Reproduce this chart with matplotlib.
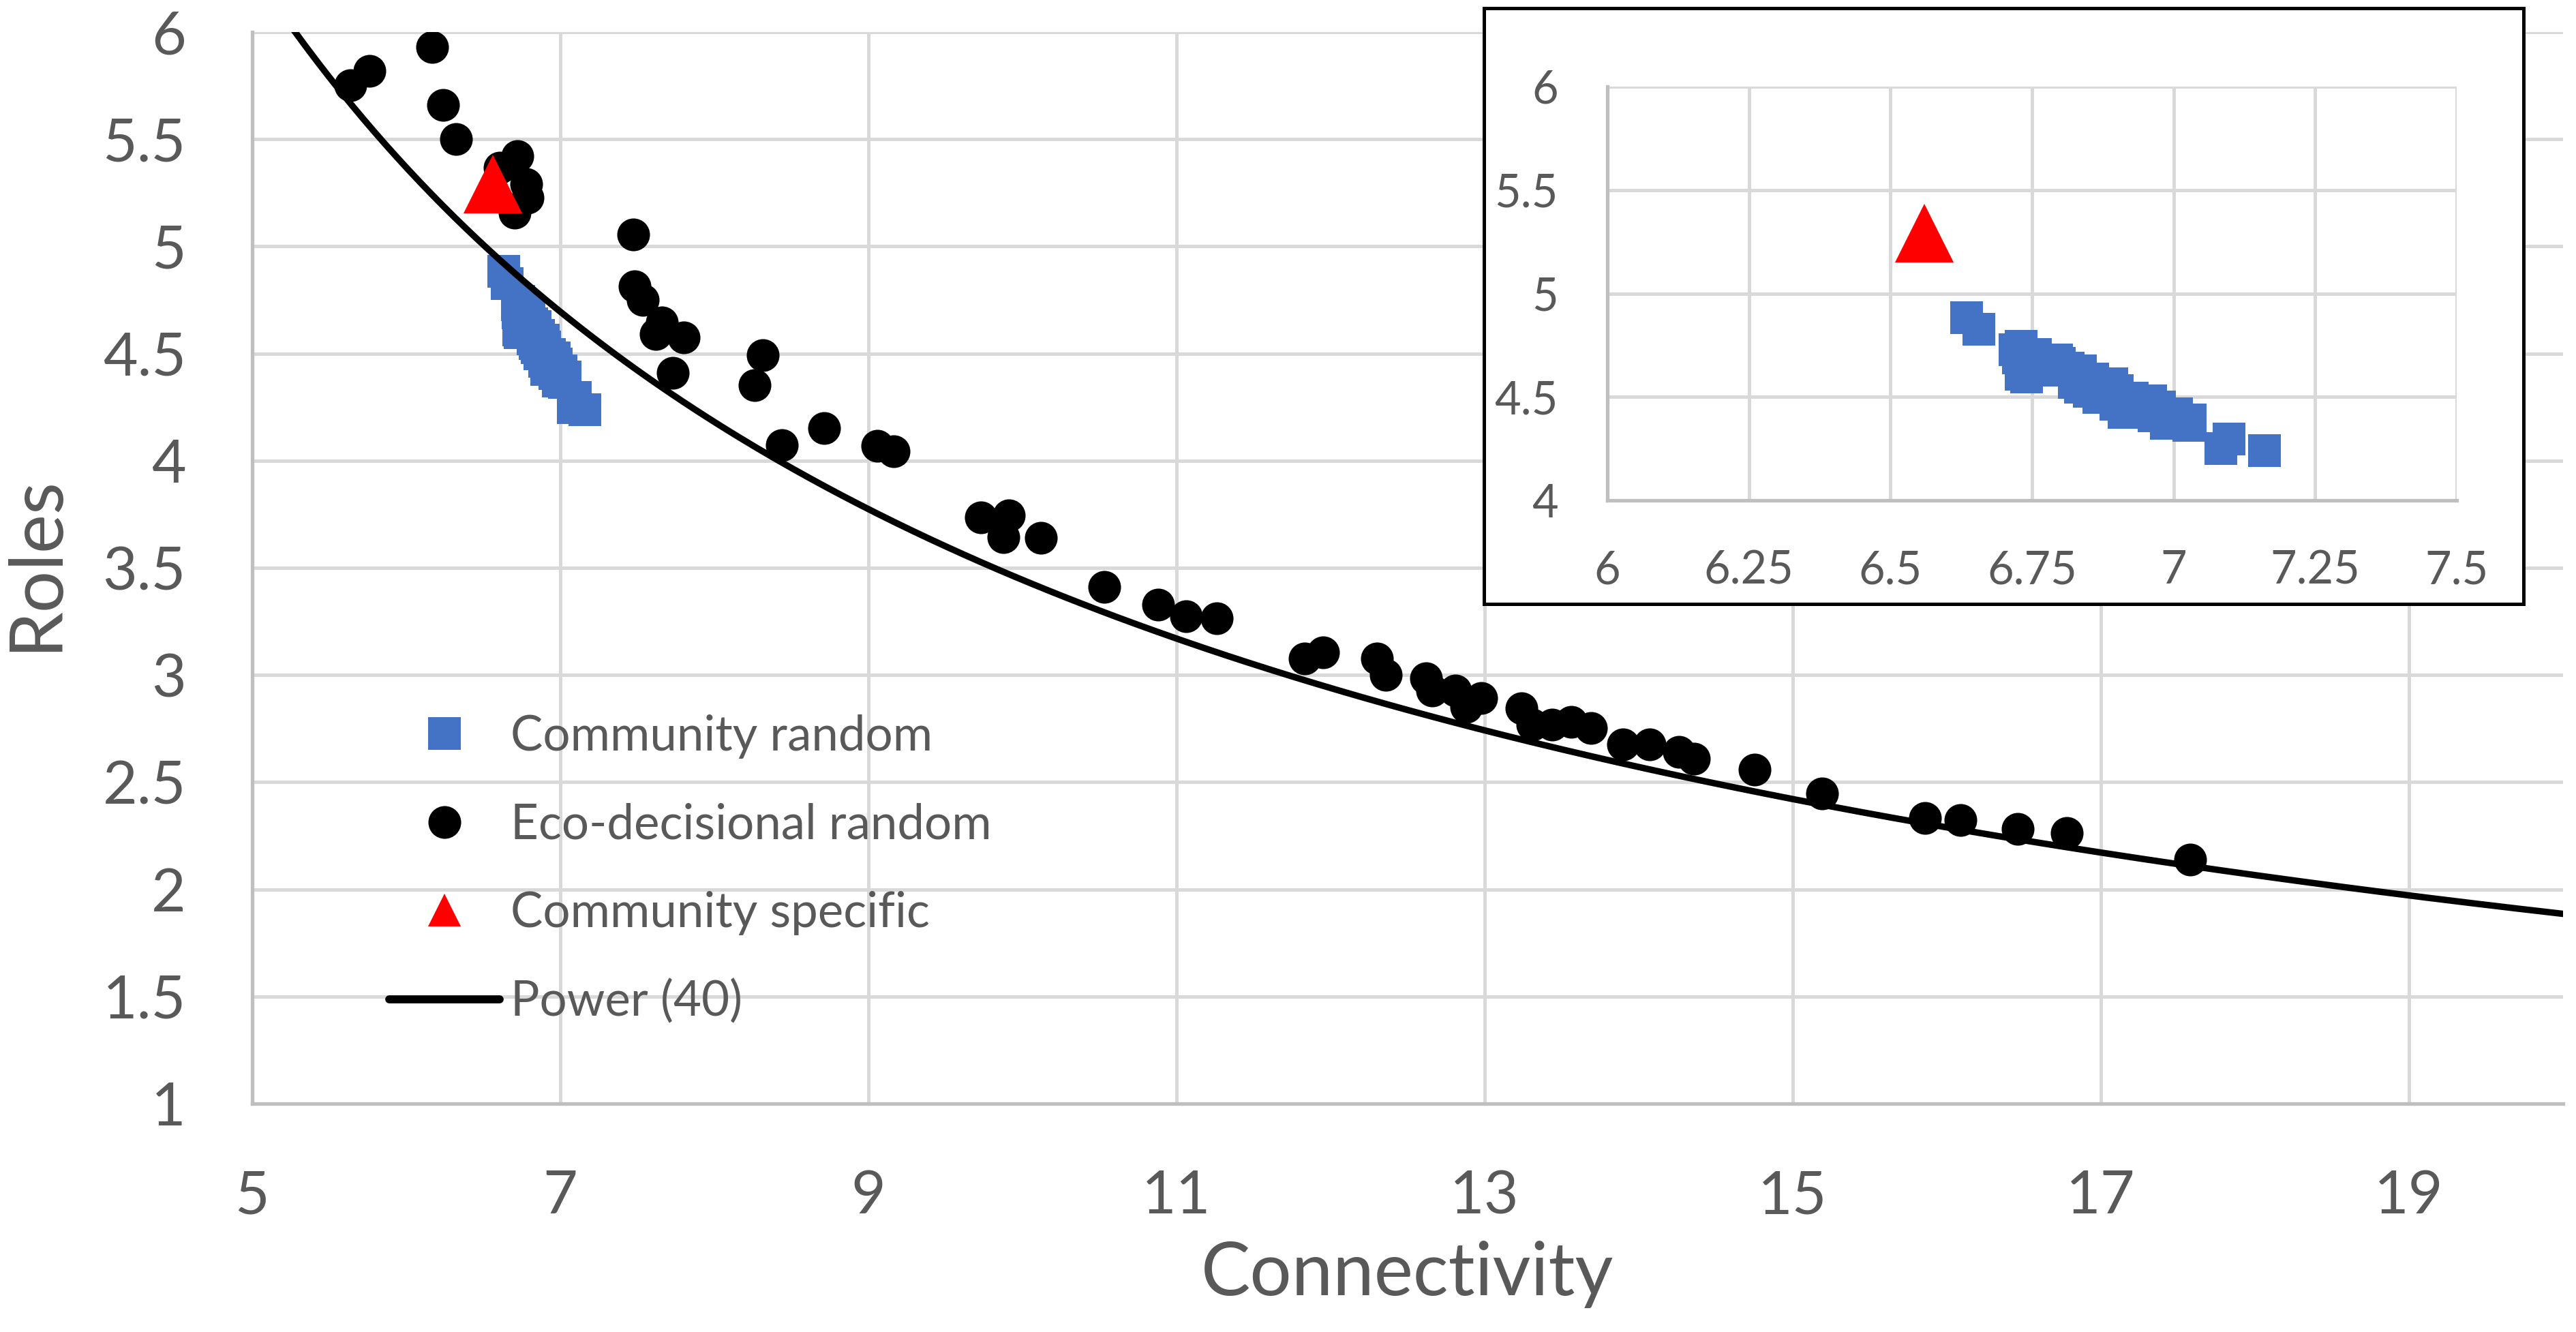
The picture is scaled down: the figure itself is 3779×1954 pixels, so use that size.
import numpy as np
import matplotlib
matplotlib.use('Agg')
import matplotlib.pyplot as plt
from matplotlib.lines import Line2D

plt.rcParams['font.family'] = ['Lato', 'DejaVu Sans']

# community random (blue squares)
comm_x = [6.634, 6.656, 6.720, 6.726, 6.731, 6.731, 6.740, 6.756, 6.778, 6.793,
          6.798, 6.814, 6.825, 6.835, 6.835, 6.851, 6.857, 6.868, 6.891, 6.898,
          6.900, 6.913, 6.923, 6.927, 6.959, 6.965, 6.975, 6.987, 7.005, 7.027,
          7.029, 7.084, 7.098, 7.160]
comm_y = [4.884, 4.827, 4.727, 4.690, 4.745, 4.610, 4.597, 4.705, 4.629, 4.679,
          4.661, 4.639, 4.570, 4.625, 4.548, 4.526, 4.586, 4.498, 4.562, 4.465,
          4.531, 4.424, 4.453, 4.494, 4.480, 4.407, 4.450, 4.372, 4.419, 4.364,
          4.389, 4.249, 4.296, 4.239]

# eco-decisional random (black dots)
eco_x = [5.637, 5.761, 6.168, 6.239, 6.323, 6.606, 6.704, 6.721, 6.779, 6.788,
         7.473, 7.482, 7.535, 7.619, 7.659, 7.730, 7.801, 8.261, 8.314, 8.438,
         8.712, 9.058, 9.164, 9.730, 9.876, 9.912, 10.12, 10.53, 10.88, 11.06,
         11.26, 11.83, 11.95, 12.30, 12.36, 12.62, 12.66, 12.81, 12.88, 12.98,
         13.24, 13.31, 13.44, 13.56, 13.69, 13.90, 14.07, 14.26, 14.36, 14.75,
         15.19, 15.86, 16.09, 16.46, 16.78, 17.58]
eco_y = [5.751, 5.818, 5.930, 5.660, 5.501, 5.367, 5.157, 5.421, 5.291, 5.227,
         5.055, 4.813, 4.750, 4.591, 4.645, 4.410, 4.575, 4.352, 4.492, 4.073,
         4.152, 4.069, 4.044, 3.735, 3.643, 3.745, 3.640, 3.412, 3.327, 3.274,
         3.266, 3.078, 3.106, 3.078, 3.002, 2.986, 2.927, 2.927, 2.850, 2.894,
         2.846, 2.768, 2.768, 2.780, 2.752, 2.676, 2.676, 2.640, 2.608, 2.560,
         2.448, 2.332, 2.323, 2.283, 2.262, 2.140]

# community specific (red triangle)
spec_x = [6.56]
spec_y = [5.29]

# power trendline y = a * x^b
power_a = 25.47
power_b = -0.869

x_ticks = [5, 7, 9, 11, 13, 15, 17, 19]
y_ticks = [1, 1.5, 2, 2.5, 3, 3.5, 4, 4.5, 5, 5.5, 6]
in_x_ticks = [6, 6.25, 6.5, 6.75, 7, 7.25, 7.5]
in_y_ticks = [4, 4.5, 5, 5.5, 6]

labels = ['Community random', 'Eco-decisional random', 'Community specific', 'Power (40)']

blue = '#4472C4'
red = '#FF0000'
grey_txt = '#595959'
grid_c = '#d9d9d9'
spine_c = '#bfbfbf'

W, H = 3780, 1954
fig = plt.figure(figsize=(W / 100, H / 100), dpi=100)

def fx(px):
    return px / W

def fy(py):
    return 1 - py / H

# main axes
ax = fig.add_axes([fx(370), fy(1619), fx(3760) - fx(370), fy(47) - fy(1619)])
ax.set_xlim(5, 20)
ax.set_ylim(1, 6)
ax.set_xticks(x_ticks)
ax.set_xticklabels([f'{v:g}' for v in x_ticks])
ax.set_yticks(y_ticks)
ax.set_yticklabels([f'{v:g}' for v in y_ticks])
ax.grid(True, color=grid_c, lw=3.6, zorder=0)
ax.set_axisbelow(True)
for s in ['top', 'right']:
    ax.spines[s].set_visible(False)
for s in ['left', 'bottom']:
    ax.spines[s].set_color(spine_c)
    ax.spines[s].set_linewidth(3.8)
ax.tick_params(length=0, pad=70, labelsize=63, labelcolor=grey_txt)
ax.set_xlabel('Connectivity', fontsize=78, color=grey_txt)
ax.set_ylabel('Roles', fontsize=78, color=grey_txt)
ax.xaxis.set_label_coords(0.5, -0.128)
ax.yaxis.set_label_coords(-0.079, 0.504)

ms_sq = 34.6
ms_tri = 62.5
ax.plot(comm_x, comm_y, 's', color=blue, ms=ms_sq, mew=0, zorder=3)
ax.plot(eco_x, eco_y, 'o', color='black', ms=ms_sq, mew=0, zorder=4)
xx = np.linspace(5.2, 20, 400)
ax.plot(xx, power_a * xx ** power_b, color='black', lw=6.8, zorder=5)
ax.plot(spec_x, spec_y, '^', color=red, ms=ms_tri, mew=0, zorder=6)

handles = [
    Line2D([], [], ls='none', marker='s', color=blue, ms=ms_sq, mew=0),
    Line2D([], [], ls='none', marker='o', color='black', ms=ms_sq, mew=0),
    Line2D([], [], ls='none', marker='^', color=red, ms=ms_sq, mew=0),
    Line2D([], [], color='black', lw=8.5, solid_capstyle='round'),
]
leg = ax.legend(handles, labels, loc='upper left', bbox_to_anchor=(fx(571), fy(1048)),
                bbox_transform=fig.transFigure, frameon=False, fontsize=51,
                borderpad=0, borderaxespad=0, handlelength=2.29, handletextpad=0.22,
                labelspacing=0.91, numpoints=1)
for t in leg.get_texts():
    t.set_color(grey_txt)

# inset frame
frame = fig.add_axes([fx(2177), fy(886), fx(3702) - fx(2177), fy(12) - fy(886)], zorder=2)
frame.set_xticks([])
frame.set_yticks([])
frame.set_facecolor('white')
for s in frame.spines.values():
    s.set_color('black')
    s.set_linewidth(3.6)

ins = fig.add_axes([fx(2358), fy(734), fx(3604) - fx(2358), fy(127) - fy(734)], zorder=3)
ins.set_xlim(6, 7.5)
ins.set_ylim(4, 6)
ins.set_xticks(in_x_ticks)
ins.set_xticklabels([f'{v:g}' for v in in_x_ticks])
ins.set_yticks(in_y_ticks)
ins.set_yticklabels([f'{v:g}' for v in in_y_ticks])
ins.grid(True, color=grid_c, lw=3.6, zorder=0)
ins.set_axisbelow(True)
for s in ['top', 'right']:
    ins.spines[s].set_visible(False)
for s in ['left', 'bottom']:
    ins.spines[s].set_color(spine_c)
    ins.spines[s].set_linewidth(3.8)
ins.tick_params(length=0, pad=52, labelsize=48, labelcolor=grey_txt)
ins.plot(comm_x, comm_y, 's', color=blue, ms=ms_sq, mew=0, zorder=3, clip_on=False)
ins.plot(spec_x, spec_y, '^', color=red, ms=ms_tri, mew=0, zorder=4, clip_on=False)

fig.savefig('out.png', dpi=100)
